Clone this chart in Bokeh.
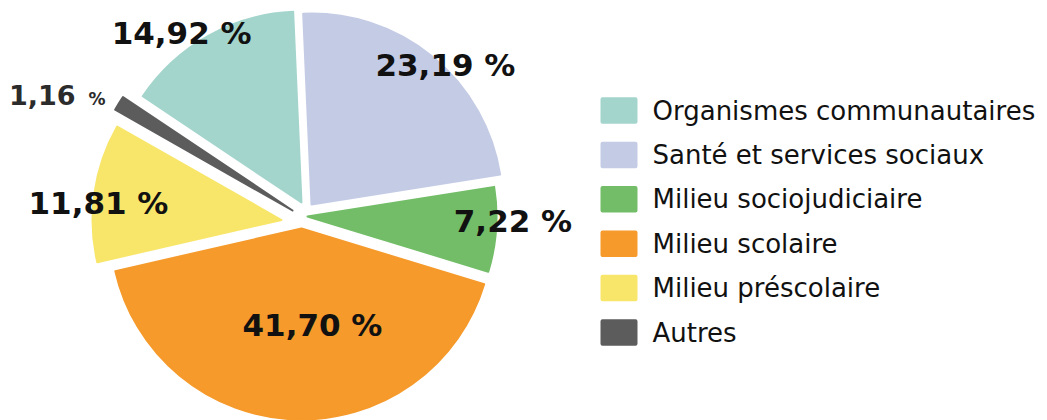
import math
from bokeh.plotting import figure
from bokeh.models import Range1d
from bokeh.core.properties import value
from bokeh.embed import file_html
from bokeh.resources import INLINE

# ---- data (legend order) ----
categories = [
    "Organismes communautaires",
    "Santé et services sociaux",
    "Milieu sociojudiciaire",
    "Milieu scolaire",
    "Milieu préscolaire",
    "Autres",
]
values = [14.92, 23.19, 7.22, 41.70, 11.81, 1.16]
colors = ["#a3d5cc", "#c4cbe5", "#73bd68", "#f59a2b", "#f8e66a", "#5c5c5c"]

# ---- style / layout ----
W, H = 1047, 420
CX, CY = 301, 216          # pie centre (screen px)
ROT = 2.5                  # rotation of the pie start (deg)
explode_dx = [0, 10, 6, 0, -20, -9]
explode_dy = [-14, -12, 0, 12, 3.5, -6]
radii = [192, 192, 190, 192, 190, 205]
label_dist = [197.6, 184.8, 206.1, 109.3, 183.1, 235.2]
label_nudge = [8.0, -7.2, -0.5, 7.8, 6.9, 5.2]
small_pct = [False, False, False, False, False, True]
label_colors = ["#111111"] * 5 + ["#2b2b2b"]
LABEL_FONT = "DejaVu Sans"
LEG_FONT = "DejaVu Sans"
SHIFT_PER_PX = -12 / 31.0  # baseline correction per px of font size


def sy(y):
    return H - y


p = figure(width=W, height=H, x_range=Range1d(0, W), y_range=Range1d(0, H),
           x_axis_type=None, y_axis_type=None, toolbar_location=None,
           output_backend="svg", min_border=0)
p.outline_line_color = None
p.background_fill_color = "white"
p.border_fill_color = "white"

total = sum(values)
degs = [v / total * 360.0 for v in values]
cursor = 90 + ROT + degs[0]
starts, ends = [], []
for d in degs:
    ends.append(cursor)
    starts.append(cursor - d)
    cursor -= d

vxs = [CX + dx for dx in explode_dx]
vys = [CY + dy for dy in explode_dy]

p.wedge(x=[vx for vx in vxs], y=[sy(vy) for vy in vys], radius=[r - 1 for r in radii],
        start_angle=[math.radians(a) for a in starts],
        end_angle=[math.radians(a) for a in ends],
        fill_color=colors, line_color=colors, line_width=2, line_join="round")


def label(x, y, txt, size, align, color):
    p.text(x=[x], y=[sy(y + SHIFT_PER_PX * size)], text=[txt],
           text_font=value(LABEL_FONT), text_font_style="bold",
           text_font_size=f"{size}px", text_align=align,
           text_baseline="alphabetic", text_color=color)


# ---- value labels ----
for i, v in enumerate(values):
    bis = (starts[i] + ends[i]) / 2 + label_nudge[i]
    lx = vxs[i] + label_dist[i] * math.cos(math.radians(bis))
    ly = vys[i] - label_dist[i] * math.sin(math.radians(bis))
    num = f"{v:.2f}".replace(".", ",")
    if small_pct[i]:
        label(lx - 6.5, ly, num, 27, "right", label_colors[i])
        label(lx + 6.5, ly, "%", 17, "left", label_colors[i])
    else:
        label(lx, ly, num + " %", 31, "center", label_colors[i])

# ---- legend ----
LEG_X = 618.5
LEG_Y0 = 110
LEG_STEP = 44.4
SW_W, SW_H = 37, 26.5
ly_rows = [LEG_Y0 + LEG_STEP * i for i in range(len(categories))]
p.rect(x=[LEG_X] * len(categories), y=[sy(y) for y in ly_rows],
       width=SW_W - 4, height=SW_H - 4, fill_color=colors, line_color=colors,
       line_width=4, line_join="round")
p.text(x=[652] * len(categories), y=[sy(y) for y in ly_rows], text=categories,
       text_font=value(LEG_FONT), text_font_size="26px", text_align="left",
       text_baseline="middle", text_color="#111111")

open("out.html", "w").write(file_html(p, INLINE))
